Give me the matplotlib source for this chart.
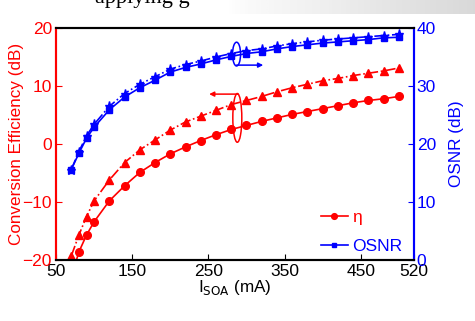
import numpy as np
import matplotlib
matplotlib.use("Agg")
import matplotlib.pyplot as plt
from matplotlib.patches import Ellipse

plt.rcParams['font.family'] = ['Liberation Sans', 'DejaVu Sans']

# bias current of the SOA (mA)
i_soa = [70, 80, 90, 100, 120, 140, 160, 180, 200, 220, 240, 260, 280,
         300, 320, 340, 360, 380, 400, 420, 440, 460, 480, 500]

# conversion efficiency (dB), left axis
eta_circ = [-23.0, -18.6, -15.7, -13.4, -9.8, -7.2, -4.9, -3.2, -1.7, -0.5,
            0.6, 1.6, 2.5, 3.2, 3.9, 4.5, 5.1, 5.6, 6.1, 6.6, 7.1, 7.5, 7.8, 8.2]
eta_tri = [-19.3, -15.7, -12.5, -9.8, -6.2, -3.2, -1.0, 0.7, 2.4, 3.8,
           4.8, 5.8, 6.8, 7.5, 8.2, 9.0, 9.7, 10.3, 10.9, 11.3, 11.8, 12.2,
           12.6, 13.1]

# OSNR (dB), right axis
osnr_sq = [15.6, 18.4, 21.0, 22.9, 25.9, 28.1, 29.7, 31.0, 32.4, 33.2,
           33.8, 34.5, 35.1, 35.6, 35.9, 36.4, 36.8, 37.1, 37.4, 37.6, 37.8,
           38.0, 38.3, 38.4]
osnr_star = [15.6, 18.7, 21.4, 23.4, 26.5, 28.7, 30.3, 31.6, 32.9, 33.7,
             34.3, 35.0, 35.6, 36.1, 36.4, 36.9, 37.3, 37.6, 37.9, 38.1,
             38.3, 38.5, 38.7, 38.9]

xticks = [50, 150, 250, 350, 450, 520]
red = "#ff0000"
blue = "#0000ff"

fig = plt.figure(figsize=(4.75, 3.21), dpi=100)

# faint grey shading of the scanned page, top right
shade = fig.add_axes([0.48, 0.955, 0.52, 0.045], zorder=-5)
shade.imshow(np.linspace(0, 1, 100)[None, :] ** 0.7, cmap="Greys",
             vmin=0, vmax=4, aspect="auto", extent=[0, 1, 0, 1])
shade.axis("off")

ax = fig.add_axes([0.118, 0.19, 0.7536, 0.7228])
ax2 = ax.twinx()

# efficiency curves
l_eta, = ax.plot(i_soa, eta_circ, "-", color=red, marker="o", ms=5.5, lw=1.2)
ax.plot(i_soa, eta_tri, "-.", color=red, marker="^", ms=6, lw=1.2)

# OSNR curves
l_osnr, = ax2.plot(i_soa, osnr_sq, "-", color=blue, marker="s", ms=4.5, lw=1.2)
ax2.plot(i_soa, osnr_star, "-.", color=blue, marker="*", ms=6.5, lw=1.2)

ax.set_xlim(50, 520)
ax.set_ylim(-20, 20)
ax2.set_ylim(0, 40)
ax.set_xticks(xticks)
ax.set_yticks([-20, -10, 0, 10, 20])
ax2.set_yticks([0, 10, 20, 30, 40])

ax.tick_params(axis="x", direction="in", length=4, colors="black",
               labelsize=12.5, pad=3)
ax.tick_params(axis="y", direction="in", length=4, colors=red,
               labelsize=12.5, pad=3)
ax2.tick_params(axis="y", direction="in", length=4, colors=blue,
                labelsize=12.5, pad=2)
for a in (ax, ax2):
    a.spines["left"].set_color(red)
    a.spines["right"].set_color(blue)
    a.spines["top"].set_color("black")
    a.spines["bottom"].set_color("black")
    for s in a.spines.values():
        s.set_linewidth(1.5)

ax.set_ylabel("Conversion Efficiency (dB)", color=red, fontsize=12.3,
              labelpad=-1)
ax2.set_ylabel("OSNR (dB)", color=blue, fontsize=12.3, labelpad=9)
ax.set_xlabel(r"I$_{\mathrm{SOA}}$ (mA)", fontsize=12.3, labelpad=-1)

# ellipses and arrows marking which curves belong to which axis
ax.add_patch(Ellipse((287, 15.5), 10.5, 4.1, fill=False, ec=blue, lw=1.1))
ax.annotate("", xy=(322, 13.6), xytext=(287, 13.6),
            arrowprops=dict(arrowstyle="-|>", color=blue, lw=1.1,
                            mutation_scale=7, shrinkA=0, shrinkB=0))
ax.add_patch(Ellipse((288, 4.5), 11.8, 8.4, fill=False, ec=red, lw=1.1))
ax.annotate("", xy=(251, 8.6), xytext=(289, 8.6),
            arrowprops=dict(arrowstyle="-|>", color=red, lw=1.1,
                            mutation_scale=7, shrinkA=0, shrinkB=0))

leg = ax2.legend([l_eta, l_osnr], ["\u03b7", "OSNR"], frameon=False,
                 loc="lower right", bbox_to_anchor=(1.01, -0.04),
                 handlelength=1.6, handletextpad=0.2, labelspacing=0.75,
                 fontsize=12.5, markerscale=0.75)
leg.get_texts()[0].set_color(red)
leg.get_texts()[1].set_color(blue)

# cut-off text of the surrounding page
fig.text(0.2, 0.99, "applying g", fontsize=16, family="Liberation Serif",
         va="baseline", ha="left")

fig.savefig("out.png", dpi=100)
